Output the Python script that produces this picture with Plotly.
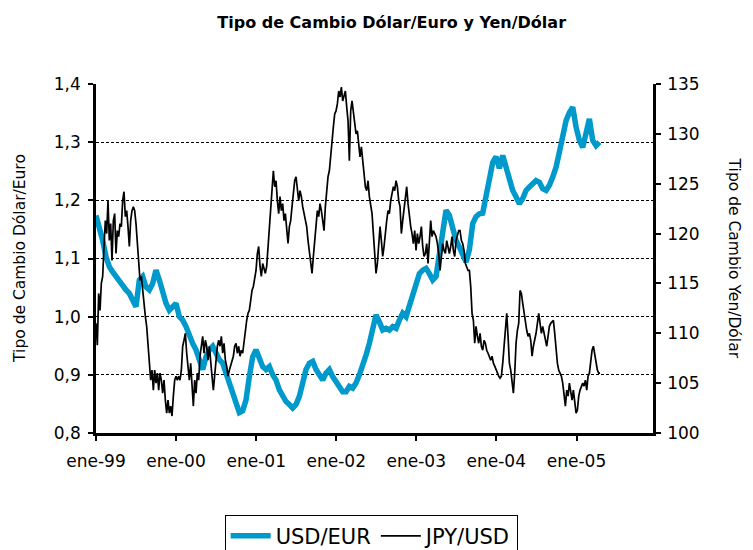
import pandas as pd
import plotly.graph_objects as go

# USD per EUR, sampled every ~15 days from Jan-1999
usd_eur = [
    1.174, 1.154, 1.131, 1.103, 1.086, 1.077, 1.069, 1.063, 1.051, 1.046, 1.04, 1.029, 1.017,
    1.063, 1.069, 1.051, 1.046, 1.057, 1.08, 1.063, 1.04, 1.023, 1.011, 1.017, 1.023, 1.0,
    0.994, 0.983, 0.966, 0.954, 0.943, 0.926, 0.909, 0.931, 0.943, 0.949, 0.937, 0.926, 0.92,
    0.903, 0.886, 0.869, 0.857, 0.835, 0.838, 0.857, 0.897, 0.931, 0.943, 0.931, 0.914, 0.909,
    0.914, 0.9, 0.891, 0.874, 0.863, 0.854, 0.849, 0.843, 0.849, 0.863, 0.886, 0.909, 0.92,
    0.923, 0.909, 0.9, 0.891, 0.903, 0.909, 0.897, 0.889, 0.877, 0.871, 0.871, 0.88,
    0.877, 0.886, 0.9, 0.914, 0.934, 0.954, 0.983, 1.003, 0.991, 0.977, 0.98, 0.977, 0.983,
    0.98, 0.994, 1.006, 1.0, 1.017, 1.04, 1.057, 1.074, 1.08, 1.083, 1.074, 1.063,
    1.069, 1.109, 1.149, 1.183, 1.174, 1.154, 1.131, 1.12, 1.109, 1.094, 1.115, 1.16, 1.172,
    1.177, 1.178, 1.205, 1.24, 1.265, 1.275, 1.255, 1.277, 1.257, 1.234, 1.217, 1.206, 1.194,
    1.203, 1.217, 1.223, 1.229, 1.234, 1.231, 1.22, 1.217, 1.226, 1.24, 1.257, 1.283,
    1.314, 1.337, 1.351, 1.36, 1.326, 1.303, 1.291, 1.32, 1.34, 1.303, 1.294, 1.3,
]

# JPY per USD, sampled every ~6 days from Jan-1999
jpy_usd = [
    111, 108.8, 114, 112.3, 115, 115.7, 118.7, 121.3, 120, 123.3, 119.3, 121, 117.3, 121.3, 122,
    118, 120.3, 119.7, 121, 120.7, 123.3, 124.2, 121.7, 122.3, 120.7, 118.7, 121.3, 122.3, 122.7,
    122.3, 121, 119, 116.7, 115.3, 115.7, 114.3, 112.7, 111.7, 110.7, 109, 106.7, 105.3, 106.3,
    104.3, 106.3, 105, 106, 104.3, 106, 105.3, 104, 105.3, 103.3, 102, 103.3, 102, 102.7, 101.7,
    103.7, 105.3, 105.7, 105.3, 105.7,
    105.3, 106.3, 108.7, 109.3, 110, 108, 106.7, 105.3, 107, 104.7, 102.7, 105.3, 104, 106, 105.3,
    107.7, 109, 109.7, 108, 109.3, 108.7, 107.3, 108.7, 106.7, 105.7, 104.3, 106, 107.7, 108.7,
    109.3, 108.7, 109.7, 108, 109, 107.3, 106.7, 105.7, 106.3, 106.7, 107.3, 107.7, 108.7, 109,
    108, 108.7, 107.7, 108.3, 108, 109.3, 110, 111.3, 112, 112.3, 113.3, 114.3, 114.7, 115.7,
    116.3, 118, 118.7, 116.7, 115.7, 117, 116.3,
    116, 116.7, 118.7, 120, 122.7, 124.3, 126.3, 124.7, 125.3, 123.3, 122, 123.7, 122.3, 123,
    121.3, 122, 120.3, 119, 120.7, 121.3, 122.7, 124.3, 125.3, 125.7, 124.7, 123.3, 124.3, 123.7,
    122.7, 122, 121, 120.7, 119.3, 118.3, 117.3, 116, 117.7, 119.3, 120.3, 122.3, 121.7, 123,
    122.3, 121.3, 120.3, 122.7, 124.7, 125.7, 126.3, 128, 129.7, 130.7, 132, 132.3, 133, 134.3,
    133.7, 134.7, 133.3, 134, 134.3, 132.7, 131.3, 127.3,
    132.3, 133.3, 132.3, 131.3, 130, 130.3, 129, 127.7, 128.7, 127.3, 125.7, 124.7, 124.3, 125.3,
    123.7, 123, 122, 120, 117.7, 116, 117, 118.7, 120.7, 119.3, 117.7, 118.7, 120.3, 121.3, 122.3,
    122, 123.3, 124, 124.7, 124.3, 125.3, 124.7, 123.3, 122.7, 120, 121.3, 122.7, 124, 124.7, 123,
    121.7, 120.7, 120, 119, 120.3, 118.3, 120, 119, 119.7, 120.7, 118.7, 117.7, 118, 119, 117,
    119.7, 121.3, 119.7, 120.3,
    120, 119.7, 119, 118, 116.3, 118, 119, 118.3, 118, 119.3, 118.7, 118, 118.7, 119.7, 118.3,
    117.7, 119.3, 120, 120.3, 120.3, 119.3, 119, 118.3, 117, 116.7, 116.3, 116.3, 114.7, 112,
    111.3, 109, 110.7, 109.7, 109, 110, 108.7, 108.3, 109.3, 109, 108.3, 108, 107.7, 107.3, 107.7,
    107, 106.7, 106.3, 106, 105.7, 105.5, 105.7, 107, 108.7, 110.3, 112, 109.7, 107, 106.3, 105.3,
    104, 106, 109, 110.3, 111,
    114.3, 114, 113, 112, 111, 110.3, 109.7, 110, 109.3, 107.7, 108.7, 109.3, 110, 111, 112, 111,
    110, 110.7, 110, 109.3, 108.7, 109.7, 110.7, 111, 111.2, 111.3, 110, 108.3, 107, 106.3, 106,
    105.7, 105, 103.7, 102.7, 104.3, 103.7, 105, 104, 103.3, 104.3, 103, 102, 102.3, 103.7, 104.3,
    104.7, 105, 104.7, 105.3, 104.3, 105.7, 106, 107.3, 108.3, 108.7, 108, 107.3, 106.3, 106, 106,
]

year_ticks = ["1999-01-01", "2000-01-01", "2001-01-01", "2002-01-01",
              "2003-01-01", "2004-01-01", "2005-01-01"]
year_labels = ["ene-99", "ene-00", "ene-01", "ene-02", "ene-03", "ene-04", "ene-05"]

usd_dates = pd.date_range("1999-01-01", periods=len(usd_eur), freq="365h")
jpy_dates = pd.date_range("1999-01-01", periods=len(jpy_usd), freq="146h")

FONT = "DejaVu Sans"

fig = go.Figure()
fig.add_trace(go.Scatter(x=usd_dates, y=usd_eur, name="USD/EUR", mode="lines",
                         line=dict(color="#0099CC", width=5.5), yaxis="y"))
fig.add_trace(go.Scatter(x=jpy_dates, y=jpy_usd, name="JPY/USD", mode="lines",
                         line=dict(color="black", width=1.7), yaxis="y2"))

fig.update_layout(
    width=745, height=542,
    paper_bgcolor="white", plot_bgcolor="white",
    separators=",.",
    margin=dict(l=88, r=100, t=76, b=117, autoexpand=False),
    font=dict(family=FONT, color="black", size=17),
    title=dict(text="<b>Tipo de Cambio Dólar/Euro y Yen/Dólar</b>",
               x=0.515, xanchor="center", y=0.974, yanchor="middle",
               font=dict(family=FONT, size=16, color="black")),
    xaxis=dict(type="date", range=["1999-01-01", "2005-12-16"],
               tickvals=year_ticks, ticktext=year_labels,
               showgrid=False, zeroline=False,
               showline=True, linecolor="black", linewidth=2.5,
               ticks="outside", ticklen=5, tickwidth=2, tickcolor="black",
               ticklabelstandoff=6, tickfont=dict(size=17)),
    yaxis=dict(range=[0.8, 1.4], dtick=0.1, tick0=0.8, tickformat=".1f",
               showgrid=True, gridcolor="black", gridwidth=1, griddash="3px,2px",
               zeroline=False, showline=True, linecolor="black", linewidth=2.5,
               ticks="outside", ticklen=5, tickwidth=2, tickcolor="black",
               ticklabelstandoff=4, tickfont=dict(size=17)),
    yaxis2=dict(range=[100, 135], dtick=5, tick0=100, overlaying="y", side="right",
                showgrid=False, zeroline=False, showline=True, linecolor="black",
                linewidth=2.5, ticks="outside", ticklen=5, tickwidth=2, tickcolor="black",
                ticklabelstandoff=3, tickfont=dict(size=17)),
    legend=dict(orientation="h", x=0.494, xanchor="center", y=-0.234, yanchor="top",
                bordercolor="black", borderwidth=1, font=dict(size=21),
                itemwidth=40, bgcolor="white"),
    showlegend=True,
    annotations=[
        dict(text="Tipo de Cambio Dólar/Euro", xref="paper", yref="paper",
             x=-0.1375, y=0.5, textangle=-90, showarrow=False,
             font=dict(size=15.5), xanchor="center", yanchor="middle"),
        dict(text="Tipo de Cambio Yen/Dólar", xref="paper", yref="paper",
             x=1.147, y=0.5, textangle=90, showarrow=False,
             font=dict(size=15.5), xanchor="center", yanchor="middle"),
    ],
)

fig.write_html("out.html")
